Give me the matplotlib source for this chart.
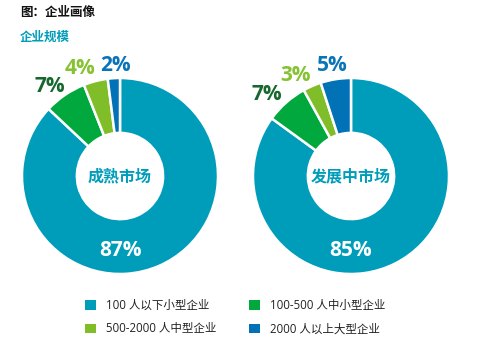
import matplotlib
matplotlib.use("Agg")
import matplotlib.pyplot as plt
from matplotlib.patches import Patch

plt.rcParams['font.family'] = ['Open Sans', 'Noto Sans CJK SC', 'DejaVu Sans']

# data
categories = ["100 人以下小型企业", "100-500 人中小型企业",
              "500-2000 人中型企业", "2000 人以上大型企业"]
markets = ["成熟市场", "发展中市场"]
mature = [87, 7, 4, 2]
developing = [85, 7, 3, 5]

COLORS = ["#009DBB", "#00A83E", "#80BE29", "#0072B5"]
LABEL_COLORS = ["white", "#17682E", "#86C232", "#0A74B8"]
TEAL = "#009DBB"

W, H = 490, 357
fig = plt.figure(figsize=(W / 100, H / 100), dpi=100)


def fx(x):
    return x / W


def fy(y):
    return 1 - y / H


fig.text(fx(20), fy(12), "图：企业画像", fontsize=9, fontweight="bold",
         color="#111111", va="center", family=['Noto Sans CJK SC'])
fig.text(fx(20), fy(37), "企业规模", fontsize=9, fontweight="bold",
         color=TEAL, va="center", family=['Noto Sans CJK SC'])

R = 98
# outside label positions (ring-radius units) for the small slices
label_pos = [
    [(-0.72, 0.91), (-0.41, 1.10), (-0.05, 1.13)],
    [(-0.86, 0.83), (-0.57, 1.03), (-0.19, 1.13)],
]
for k, (cx, cy, vals, name) in enumerate([(120, 176, mature, markets[0]),
                                          (351, 176, developing, markets[1])]):
    ax = fig.add_axes([fx(cx - R), fy(cy + R), 2 * R / W, 2 * R / H])
    wedges, _ = ax.pie(vals, colors=COLORS, startangle=90, counterclock=False,
                       radius=1, wedgeprops=dict(width=0.56, edgecolor="white",
                                                 linewidth=1.8))
    ax.set_xlim(-1, 1)
    ax.set_ylim(-1, 1)
    ax.axis("off")
    ax.text(0, 0, name, ha="center", va="center", fontsize=11.5,
            fontweight="bold", color=TEAL, family=['Noto Sans CJK SC'])
    ax.text(0, -0.76, f"{vals[0]}%", ha="center", va="center", fontsize=15,
            fontweight="bold", color="white")
    for i in range(1, len(vals)):
        x, y = label_pos[k][i - 1]
        ax.text(x, y, f"{vals[i]}%", ha="center", va="center", fontsize=15,
                fontweight="bold", color=LABEL_COLORS[i], clip_on=False)

handles = [Patch(facecolor=c, edgecolor="none") for c in COLORS]
order = [0, 2, 1, 3]
fig.legend([handles[i] for i in order], [categories[i] for i in order],
           ncol=2, loc="center left", bbox_to_anchor=(fx(75), fy(317)),
           frameon=False, prop={'family': ['Open Sans', 'Noto Sans CJK SC'],
                                'size': 8.3},
           handlelength=0.95, handleheight=0.95, handletextpad=0.8,
           columnspacing=2.9, labelspacing=0.95, labelcolor="#222222")

fig.savefig("out.png", dpi=100)
